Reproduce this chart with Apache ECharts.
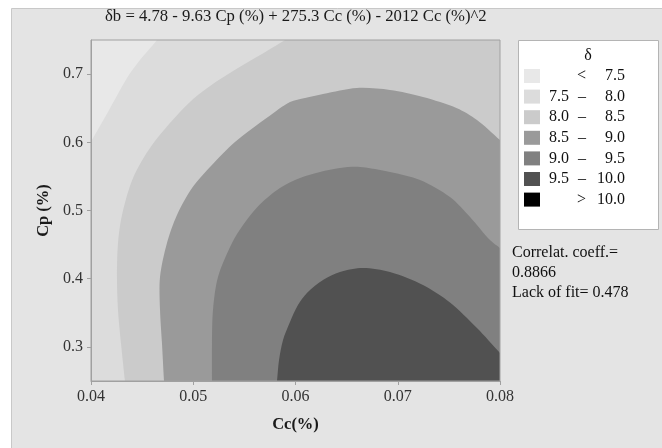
<!DOCTYPE html>
<html><head><meta charset="utf-8">
<script src="https://cdn.jsdelivr.net/npm/echarts@6/dist/echarts.min.js"></script>
<style>html,body{margin:0;padding:0;background:#fff}#c{width:662px;height:448px}</style>
</head><body><div id="c"></div>
<script>
// ---- data ----
const ccTicks = [0.04, 0.05, 0.06, 0.07, 0.08];
const cpTicks = [0.3, 0.4, 0.5, 0.6, 0.7];
const ccRange = [0.04, 0.08];
const cpRange = [0.25, 0.75];
const levelLow  = [null, 7.5, 8.0, 8.5, 9.0, 9.5, 10.0];
const levelHigh = [7.5, 8.0, 8.5, 9.0, 9.5, 10.0, null];
const levelColors = ['#e8e8e8', '#dcdcdc', '#cbcbcb', '#9a9a9a', '#808080', '#515151', '#000000'];
const fitStats = { corr: '0.8866', lackOfFit: '0.478' };
const titleText = 'δb = 4.78 - 9.63 Cp (%) + 275.3 Cc (%) - 2012 Cc (%)^2';

// contour lines, [Cc, Cp]
const contour75 = [[0.04645,0.75],[0.04606,0.7427],[0.04479,0.7207],[0.04352,0.6944],[0.04166,0.6444],[0.0402,0.6063],[0.04,0.6019]];
const contour80 = [[0.05897,0.75],[0.05819,0.7427],[0.05281,0.6944],[0.05046,0.6694],[0.0487,0.6444],[0.04597,0.596],[0.04411,0.5477],[0.04303,0.4934],[0.04264,0.4523],[0.04254,0.4025],[0.04264,0.3541],[0.04293,0.3057],[0.04332,0.25]];
const contour85 = [[0.08,0.6034],[0.07775,0.6327],[0.07579,0.65],[0.07247,0.6664],[0.06924,0.6767],[0.06601,0.6796],[0.06269,0.6708],[0.06093,0.665],[0.05946,0.6591],[0.05731,0.6371],[0.05408,0.6004],[0.05183,0.5667],[0.04988,0.533],[0.04841,0.4934],[0.04743,0.4523],[0.04675,0.4025],[0.04675,0.3541],[0.04694,0.3057],[0.04714,0.25]];
const contour90 = [[0.08,0.445],[0.07902,0.4567],[0.07707,0.4905],[0.07511,0.5198],[0.07218,0.5447],[0.06924,0.5565],[0.06631,0.5638],[0.06435,0.5623],[0.0624,0.5565],[0.06044,0.5477],[0.05848,0.533],[0.05653,0.509],[0.05487,0.4787],[0.05379,0.4523],[0.05242,0.4025],[0.05193,0.3541],[0.05183,0.3057],[0.05183,0.25]];
const contour95 = [[0.05819,0.25],[0.05839,0.2808],[0.05878,0.3101],[0.05946,0.3365],[0.06024,0.3614],[0.06112,0.379],[0.06269,0.3981],[0.06435,0.4098],[0.0666,0.4157],[0.06924,0.4098],[0.07247,0.3908],[0.07511,0.3651],[0.07775,0.3277],[0.08,0.2911]];

// each level's region lies on the high side of its contour (towards bottom-right)
const regionDefs = [
  { contour: null, corners: [] },
  { contour: contour75, corners: ['BL', 'BR', 'TR'] },
  { contour: contour80, corners: ['BR', 'TR'] },
  { contour: contour85, corners: ['BR'] },
  { contour: contour90, corners: ['BR'] },
  { contour: contour95, corners: ['BR'] },
  null
];
const names = levelColors.map((c, k) => 'L' + k);
const serif = "'Liberation Serif','Times New Roman',serif";
const [x0, x1] = ccRange, [y0, y1] = cpRange;

// build polygon in pixel space; endpoints continued a little along the contour, then pushed outside the clip box
function buildPolygon(def, api) {
  const tl = api.coord([x0, y1]), br = api.coord([x1, y0]);
  const L = tl[0], T = tl[1], R = br[0], B = br[1], M = 80;
  const corner = { BL: [L - M, B + M], BR: [R + M, B + M], TR: [R + M, T - M], TL: [L - M, T - M] };
  if (!def.contour) return [corner.BL, corner.BR, corner.TR, corner.TL];
  const px = def.contour.map(p => api.coord(p));
  function ext(p, nb) {
    const vx = p[0] - nb[0], vy = p[1] - nb[1], n = Math.hypot(vx, vy) || 1;
    const e1 = [p[0] + vx / n * 5, p[1] + vy / n * 5];
    let e2;
    if (Math.abs(p[1] - T) < 1) e2 = [e1[0], T - M];
    else if (Math.abs(p[1] - B) < 1) e2 = [e1[0], B + M];
    else if (Math.abs(p[0] - L) < 1) e2 = [L - M, e1[1]];
    else e2 = [R + M, e1[1]];
    return [e1, e2];
  }
  const s = ext(px[0], px[1]);
  const e = ext(px[px.length - 1], px[px.length - 2]);
  return [s[1], s[0]].concat(px, [e[0], e[1]], def.corners.map(c => corner[c]));
}

const series = names.map((nm, k) => ({
  type: 'custom',
  name: nm,
  coordinateSystem: 'cartesian2d',
  clip: true,
  z: 2,
  itemStyle: { color: levelColors[k] },
  data: regionDefs[k] ? [[x0, y0]] : [],
  renderItem: (params, api) => ({
    type: 'polygon',
    shape: { points: buildPolygon(regionDefs[k], api), smooth: k === 0 ? 0 : 0.3 },
    style: { fill: levelColors[k], stroke: null }
  })
}));

const txt = { fontFamily: serif, fontSize: 16, color: '#111' };

const chart = echarts.init(document.getElementById('c'));
chart.setOption({
  animation: false,
  backgroundColor: '#ffffff',
  title: {
    text: titleText, left: 105, top: 8, padding: 0,
    textStyle: { fontFamily: serif, fontSize: 16.7, fontWeight: 'normal', color: '#1a1a1a' }
  },
  grid: { left: 91, top: 40, width: 409, height: 341, show: true, z: 5,
          backgroundColor: 'transparent', borderColor: '#a0a0a0', borderWidth: 1 },
  xAxis: {
    type: 'value', min: ccRange[0], max: ccRange[1], z: 6,
    name: 'Cc(%)', nameLocation: 'middle', nameGap: 35,
    nameTextStyle: { fontFamily: serif, fontSize: 16.5, fontWeight: 'bold', color: '#1a1a1a' },
    axisLine: { show: true, lineStyle: { color: '#a0a0a0' } },
    axisTick: { show: true, length: 4, lineStyle: { color: '#a0a0a0' }, customValues: ccTicks },
    axisLabel: { customValues: ccTicks, margin: 8, formatter: v => v.toFixed(2),
                 fontFamily: serif, fontSize: 16, color: '#333' },
    splitLine: { show: false }
  },
  yAxis: {
    type: 'value', min: cpRange[0], max: cpRange[1], z: 6,
    name: 'Cp (%)', nameLocation: 'middle', nameGap: 32, nameRotate: 90,
    nameTextStyle: { fontFamily: serif, fontSize: 16.5, fontWeight: 'bold', color: '#1a1a1a' },
    axisLine: { show: true, lineStyle: { color: '#a0a0a0' } },
    axisTick: { show: true, length: 4, lineStyle: { color: '#a0a0a0' }, customValues: cpTicks },
    axisLabel: { customValues: cpTicks, margin: 8, formatter: v => v.toFixed(1),
                 fontFamily: serif, fontSize: 16, color: '#333' },
    splitLine: { show: false }
  },
  legend: {
    orient: 'vertical', left: 524, top: 68, padding: 0,
    itemWidth: 16, itemHeight: 14, itemGap: 4.6, icon: 'rect',
    selectedMode: false, z: 10,
    data: names.slice(),
    formatter: name => {
      const k = names.indexOf(name);
      const lo = levelLow[k], hi = levelHigh[k];
      if (lo === null) return '{a| }{b|<}{c|' + hi.toFixed(1) + '}';
      if (hi === null) return '{a| }{b|>}{c|' + lo.toFixed(1) + '}';
      return '{a|' + lo.toFixed(1) + '}{b|–}{c|' + hi.toFixed(1) + '}';
    },
    textStyle: Object.assign({}, txt, {
      rich: {
        a: Object.assign({ width: 20, align: 'left', padding: [0, 0, 0, 4] }, txt),
        b: Object.assign({ width: 17, align: 'right' }, txt),
        c: Object.assign({ width: 39, align: 'right' }, txt)
      }
    })
  },
  graphic: [
    { type: 'rect', z: -100, shape: { x: 11.5, y: 8.5, width: 700, height: 500 },
      style: { fill: '#e4e4e4', stroke: '#c8c8c8', lineWidth: 1 } },
    { type: 'rect', z: -50, shape: { x: 518.5, y: 40.5, width: 140, height: 189 },
      style: { fill: '#ffffff', stroke: '#b4b4b4', lineWidth: 1 } },
    { type: 'text', z: 20, x: 588, y: 56,
      style: { text: 'δ', fontFamily: serif, fontSize: 16, fill: '#111', align: 'center', verticalAlign: 'middle' } },
    { type: 'text', z: 20, x: 512, y: 253,
      style: { text: 'Correlat. coeff.=', fontFamily: serif, fontSize: 16, fill: '#111', verticalAlign: 'middle' } },
    { type: 'text', z: 20, x: 512, y: 273,
      style: { text: fitStats.corr, fontFamily: serif, fontSize: 16, fill: '#111', verticalAlign: 'middle' } },
    { type: 'text', z: 20, x: 512, y: 293,
      style: { text: 'Lack of fit= ' + fitStats.lackOfFit, fontFamily: serif, fontSize: 16, fill: '#111', verticalAlign: 'middle' } }
  ],
  series: series
});
</script>
</body></html>
